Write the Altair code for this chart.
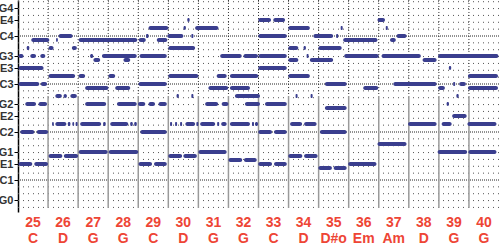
import altair as alt
import pandas as pd

# ---------------- data ----------------
measures = list(range(25, 41))
chords = ["C", "D", "G", "G", "C", "D", "G", "G", "C", "D", "D#o", "Em", "Am", "D", "G", "G"]

tick_values = [19, 24, 28, 31, 36, 40, 43, 48, 52, 55, 60, 64, 67]
tick_names = ["G0", "C1", "E1", "G1", "C2", "E2", "G2", "C3", "E3", "G3", "C4", "E4", "G4"]

# notes: (start, end, pitch) ; time unit = 1/12 measure, pitch = MIDI number
melody = [
    (3.5, 4.5, 57), (5.3, 12.5, 59), (12.2, 14.2, 57), (15.2, 15.9, 59), (16.2, 21.8, 60),
    (21.5, 23.5, 57), (24.2, 47.6, 59), (48.2, 51.0, 59), (51.1, 52.1, 60), (52.1, 60.0, 62),
    (55.4, 59.6, 59), (59.6, 66.0, 60), (60.0, 70.7, 57), (66.1, 67.0, 62), (67.6, 68.5, 64),
    (69.2, 70.0, 60), (70.7, 80.0, 62), (95.9, 101.0, 64), (101.9, 106.6, 64), (95.9, 107.3, 60),
    (107.9, 116.5, 62), (107.9, 111.9, 57), (114.0, 114.9, 57), (117.9, 125.8, 60),
    (119.9, 129.2, 57), (127.0, 127.8, 60), (128.8, 129.6, 62), (129.8, 143.5, 59),
    (143.5, 146.5, 64), (146.8, 147.6, 62), (148.5, 150.8, 59), (151.1, 155.1, 60),
]
inner = [
    (0.2, 2.2, 55), (4.9, 7.2, 55), (8.9, 10.9, 55), (28.8, 30.0, 55), (33.5, 47.4, 55),
    (48.5, 59.4, 55), (80.7, 89.3, 55), (90.0, 95.8, 55), (96.0, 107.3, 55), (115.2, 116.0, 55),
    (130.2, 144.0, 55), (145.1, 160.8, 55), (167.7, 191.8, 55),
    (30.1, 32.8, 54), (42.1, 44.8, 54), (107.9, 111.9, 54), (116.5, 125.8, 54), (161.5, 167.1, 54),
    (0.2, 10.2, 52), (95.9, 107.3, 52), (172.0, 172.9, 52),
    (12.2, 22.8, 50), (24.2, 26.8, 50), (36.1, 38.8, 50), (60.0, 72.0, 50), (79.3, 83.3, 50),
    (84.6, 95.9, 50), (107.9, 116.5, 50), (179.6, 191.6, 50),
    (0.2, 8.5, 48), (9.1, 11.6, 48), (48.1, 59.4, 48), (122.5, 131.2, 48), (149.8, 167.1, 48),
    (173.7, 174.5, 48), (176.1, 178.8, 48),
]
tenor = [
    (26.8, 36.1, 47), (38.8, 44.8, 47), (76.0, 83.9, 47), (84.6, 92.6, 47), (137.8, 143.8, 47),
    (167.7, 170.4, 47), (179.6, 191.6, 47),
    (14.9, 17.5, 45), (18.2, 19.5, 45), (20.9, 23.5, 45), (63.3, 64.2, 45), (69.2, 70.0, 45),
    (86.6, 96.6, 45), (110.8, 111.6, 45), (116.8, 117.6, 45), (175.0, 175.9, 45),
    (2.9, 7.2, 43), (8.2, 11.6, 43), (26.8, 35.2, 43), (39.5, 47.4, 43), (47.9, 50.8, 43),
    (52.1, 54.7, 43), (56.1, 59.4, 43), (74.7, 79.9, 43), (81.3, 84.0, 43), (90.6, 96.6, 43),
    (98.6, 107.3, 43), (171.1, 172.0, 43),
    (122.5, 131.2, 42), (173.3, 179.1, 40),
]
bass_high = [
    (0.9, 6.5, 36), (7.5, 12.0, 36), (48.8, 59.4, 36), (95.9, 101.4, 36), (102.2, 107.3, 36),
    (120.5, 131.2, 36),
    (13.6, 14.3, 38), (14.9, 19.3, 38), (19.9, 20.9, 38), (21.7, 22.4, 38), (23.0, 23.8, 38),
    (24.8, 33.2, 38), (34.0, 35.0, 38), (36.8, 44.0, 38), (44.8, 45.8, 38), (46.4, 47.4, 38),
    (60.7, 61.5, 38), (62.7, 63.5, 38), (64.7, 65.5, 38), (66.8, 70.7, 38), (71.2, 72.0, 38),
    (72.7, 78.7, 38), (79.5, 80.3, 38), (81.1, 83.3, 38), (84.6, 92.6, 38), (93.4, 94.2, 38),
    (94.6, 95.8, 38), (108.6, 113.4, 38), (114.2, 119.2, 38), (155.7, 167.1, 38),
    (169.1, 173.1, 38), (179.4, 191.0, 38),
]
bass_low = [
    (0.2, 5.7, 28), (6.5, 12.0, 28), (48.1, 53.5, 28), (54.3, 59.4, 28), (95.9, 101.4, 28),
    (102.2, 107.3, 28), (131.8, 143.1, 28),
    (12.2, 17.7, 30), (18.3, 24.0, 30), (60.0, 65.5, 30), (66.0, 71.4, 30), (107.9, 113.5, 30),
    (114.2, 119.6, 30),
    (24.2, 35.8, 31), (36.2, 48.0, 31), (72.0, 83.3, 31), (167.5, 179.3, 31), (179.8, 191.0, 31),
    (84.0, 89.5, 29), (90.2, 95.3, 29), (119.9, 125.3, 27), (126.0, 131.2, 27),
    (143.5, 155.1, 33),
]

# ---------------- tables ----------------
notes = pd.DataFrame(melody + inner + tenor + bass_high + bass_low, columns=["s", "e", "p"])
notes["lo"] = notes["p"] - 0.5
notes["hi"] = notes["p"] + 0.5

UNITS = 12
n_meas = len(measures)
labels_df = pd.DataFrame({
    "c": [i * UNITS + UNITS / 2 for i in range(n_meas)],
    "num": [str(m) for m in measures],
    "chord": chords,
})
bars_df = pd.DataFrame({"t": [i * UNITS for i in range(1, n_meas)]})

grid_rows = [24 + k * 12 / 7 for k in range(-4, 27)]
rows_df = pd.DataFrame({"p": [r for k, r in zip(range(-4, 27), grid_rows) if k % 7 != 0]})
crows_df = pd.DataFrame({"p": [r for k, r in zip(range(-4, 27), grid_rows) if k % 7 == 0]})

# ---------------- scales / axes ----------------
xs = alt.Scale(domain=[0, UNITS * n_meas], nice=False, zero=False)
ys = alt.Scale(domain=[16, 69], nice=False, zero=False)

label_expr = "".join(f"datum.value=={v}?'{n}':" for v, n in zip(tick_values, tick_names)) + "''"
yaxis = alt.Axis(
    values=tick_values, labelExpr=label_expr, grid=False, title=None,
    domain=True, domainColor="#000", domainWidth=1.5,
    ticks=True, tickColor="#000", tickSize=4, tickWidth=1,
    labelFont="Liberation Sans", labelFontWeight="bold", labelFontSize=11,
    labelColor="#333", labelPadding=1,
)

NAVY = "#3a3e8e"
RED = "#ee4535"

rows = alt.Chart(rows_df).mark_rule(color="#555", strokeWidth=1, strokeDash=[1, 4]).encode(
    y=alt.Y("p:Q", scale=ys, axis=yaxis)
)
crows = alt.Chart(crows_df).mark_rule(color="#222", strokeWidth=1, strokeDash=[1, 1]).encode(
    y=alt.Y("p:Q", scale=ys, axis=yaxis)
)
bar_up = alt.Chart(bars_df).mark_rule(color="#333", strokeWidth=1, strokeDash=[1, 2]).encode(
    x=alt.X("t:Q", scale=xs, axis=None),
    y=alt.datum(69, scale=ys, axis=yaxis),
    y2=alt.datum(45),
)
bar_low = alt.Chart(bars_df).mark_rule(color="#9a9a9a", strokeWidth=1.5).encode(
    x=alt.X("t:Q", scale=xs, axis=None),
    y=alt.datum(45, scale=ys, axis=yaxis),
    y2=alt.datum(17),
)
note_marks = alt.Chart(notes).mark_rect(color=NAVY, cornerRadius=2).encode(
    x=alt.X("s:Q", scale=xs, axis=None),
    x2="e:Q",
    y=alt.Y("lo:Q", scale=ys, axis=yaxis),
    y2="hi:Q",
)
num_text = alt.Chart(labels_df).mark_text(
    font="Liberation Sans", fontWeight="bold", fontSize=14, color=RED, baseline="middle"
).encode(x=alt.X("c:Q", scale=xs, axis=None), y=alt.value(223), text="num:N")
chord_text = alt.Chart(labels_df).mark_text(
    font="Liberation Sans", fontWeight="bold", fontSize=14, color=RED, baseline="middle"
).encode(x=alt.X("c:Q", scale=xs, axis=None), y=alt.value(239), text="chord:N")

chart = alt.layer(rows, crows, bar_up, bar_low, note_marks, num_text, chord_text).properties(
    width=481, height=212,
    padding={"left": 18, "top": 0, "right": 0, "bottom": 36},
    autosize=alt.AutoSizeParams(type="none"),
    background="white",
).configure_view(stroke=None)

chart.save("out.html", embed_options={"renderer": "svg", "actions": False})
